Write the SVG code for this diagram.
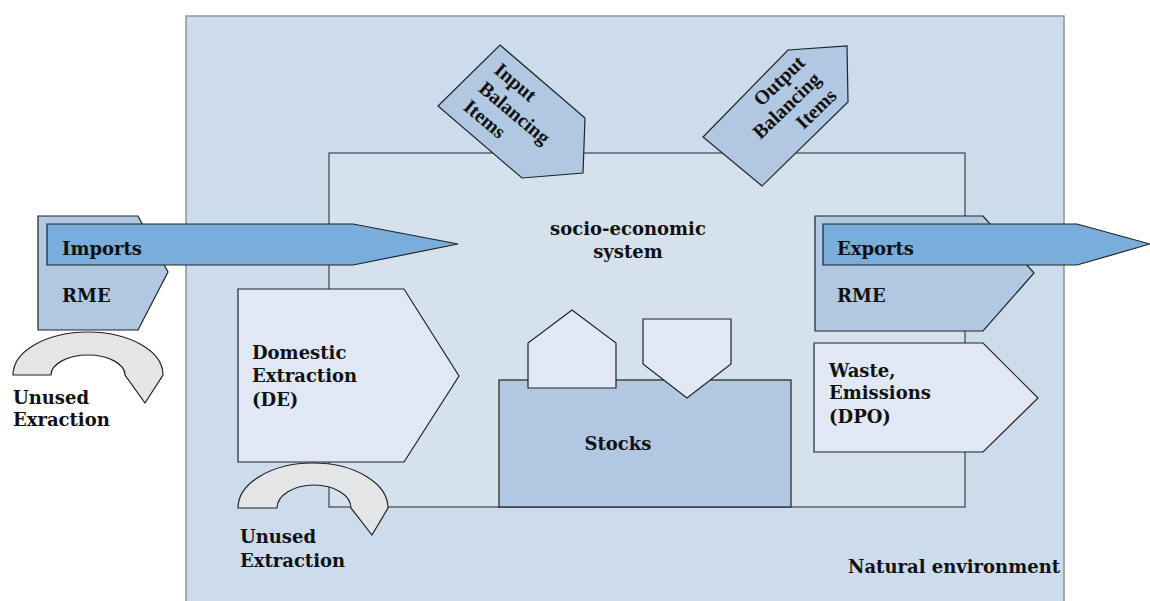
<svg xmlns="http://www.w3.org/2000/svg" width="1150" height="601" viewBox="0 0 1150 601">
<defs>
<style>
.lbl{font-family:"DejaVu Serif","Liberation Serif",serif;font-weight:bold;font-size:18px;fill:#111}
.bal{font-family:"Liberation Serif","Times New Roman",serif;font-weight:bold;font-size:20px;fill:#111}
.edge{stroke:#222;stroke-width:1.2}
.mid{fill:#b1c8e2}
.arrow{fill:#79addc}
.pale{fill:#e0e8f5}
.grey{fill:#e4e5e7}
</style>
</defs>
<rect width="1150" height="601" fill="#ffffff"/>
<g id="natural-environment">
<rect x="186" y="16" width="878" height="600" fill="#ccdcec" stroke="#8d939b" stroke-width="1.5"/>
<text class="lbl" x="848" y="573">Natural environment</text>
</g>
<g id="socio-economic-system">
<rect x="329" y="153" width="636" height="354" fill="#d5e1ed" stroke="#4a4f55" stroke-width="1.3"/>
<text class="lbl" x="628" y="235" text-anchor="middle">socio-economic</text>
<text class="lbl" x="628" y="258" text-anchor="middle">system</text>
</g>
<g id="imports-rme">
<polygon class="mid edge" points="38,216 138,216 168,272 138,330 38,330"/>
<text class="lbl" x="62" y="302">RME</text>
</g>
<g id="exports-rme">
<polygon class="mid edge" points="815,216 983,216 1034,273 983,331 815,331"/>
<text class="lbl" x="837" y="302">RME</text>
</g>
<g id="connectors">
<g id="imports">
<polygon class="arrow edge" points="47,224 353,224 458,244 353,265 47,265"/>
<text class="lbl" x="62" y="255">Imports</text>
</g>
<g id="exports">
<polygon class="arrow edge" points="823,224 1077,224 1150,244 1077,265 823,265"/>
<text class="lbl" x="837" y="255">Exports</text>
</g>
</g>
<g id="domestic-extraction">
<polygon class="pale edge" points="238,289 404,289 459,376 404,462 238,462"/>
<text class="lbl" x="252" y="359">Domestic</text>
<text class="lbl" x="252" y="382">Extraction</text>
<text class="lbl" x="252" y="406">(DE)</text>
</g>
<g id="waste-emissions">
<polygon class="pale edge" points="814,343 983,343 1038,398 983,452 814,452"/>
<text class="lbl" x="829" y="377">Waste,</text>
<text class="lbl" x="829" y="399">Emissions</text>
<text class="lbl" x="829" y="423">(DPO)</text>
</g>
<g id="stocks">
<rect class="mid edge" x="499" y="380" width="292" height="127"/>
<text class="lbl" x="618" y="450" text-anchor="middle">Stocks</text>
</g>
<g id="stock-addition">
<polygon class="pale edge" points="528,388 528,343 572,310 616,343 616,388"/>
</g>
<g id="stock-removal">
<polygon class="pale edge" points="643,319 731,319 731,364 687,398 643,364"/>
</g>
<g id="unused-extraction-imports">
<path class="grey edge" d="M13,375 A75,43 0 0 1 163,375 L145,403 L125,375 A37,20 0 0 0 51,375 Z"/>
<text class="lbl" x="13" y="404">Unused</text>
<text class="lbl" x="13" y="426">Exraction</text>
</g>
<g id="unused-extraction-domestic">
<path class="grey edge" d="M238,508 A75,45 0 0 1 388,508 L372,535 L351,508 A37,23 0 0 0 277,508 Z"/>
<text class="lbl" x="240" y="543">Unused</text>
<text class="lbl" x="240" y="567">Extraction</text>
</g>
<g id="input-balancing-items">
<polygon class="mid edge" points="500,45 585,118 583,173 522,178 438,106"/>
<g transform="translate(493,72) rotate(40)">
<text class="bal" x="0" y="0">Input</text>
<text class="bal" x="0" y="24">Balancing</text>
<text class="bal" x="0" y="48">Items</text>
</g>
</g>
<g id="output-balancing-items">
<polygon class="mid edge" points="788,50 847,46 848,102 762,186 703,137"/>
<g transform="translate(806,64) rotate(-44)">
<text class="bal" x="0" y="0" text-anchor="end">Output</text>
<text class="bal" x="0" y="23" text-anchor="end">Balancing</text>
<text class="bal" x="0" y="46" text-anchor="end">Items</text>
</g>
</g>
</svg>
